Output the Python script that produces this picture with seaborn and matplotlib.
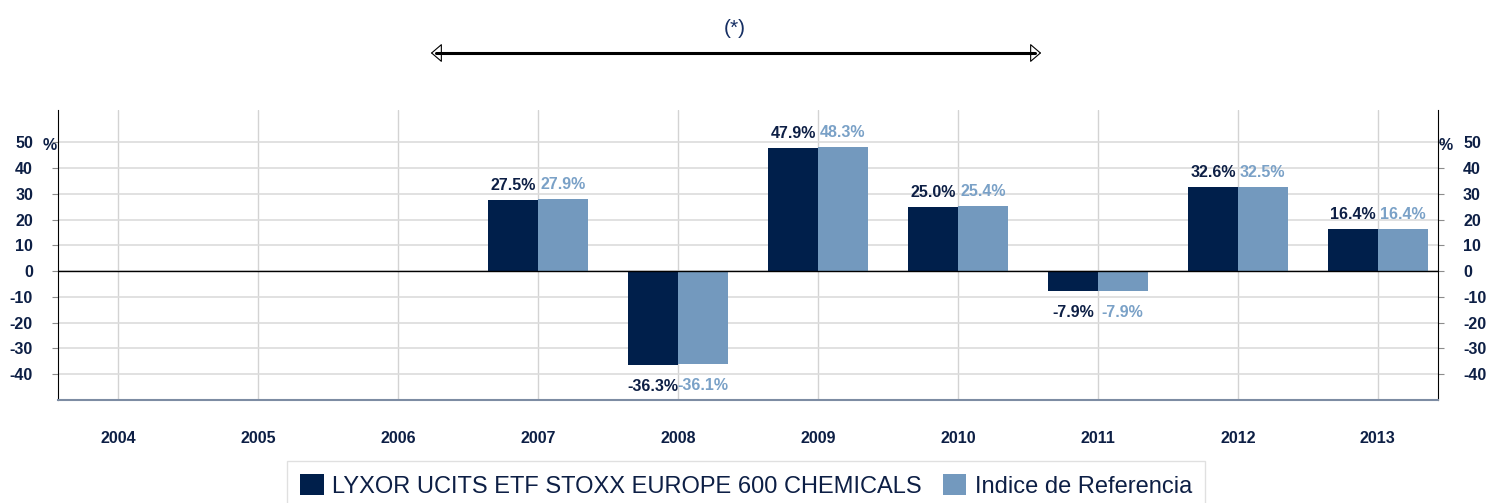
import numpy as np
import pandas as pd
import matplotlib
matplotlib.use("Agg")
import matplotlib.pyplot as plt
from matplotlib.patches import FancyArrowPatch, Patch
from matplotlib.lines import Line2D
import seaborn as sns

# Annual returns (%), fund vs benchmark
years = ["2004", "2005", "2006", "2007", "2008", "2009", "2010", "2011", "2012", "2013"]
data_years = ["2007", "2008", "2009", "2010", "2011", "2012", "2013"]
fund = [27.5, -36.3, 47.9, 25.0, -7.9, 32.6, 16.4]
index = [27.9, -36.1, 48.3, 25.4, -7.9, 32.5, 16.4]
series = ["LYXOR UCITS ETF STOXX EUROPE 600 CHEMICALS", "Indice de Referencia"]
yticks = [-40, -30, -20, -10, 0, 10, 20, 30, 40, 50]

dark = "#001f4b"
light = "#7399be"
text_dark = "#0d1f45"
text_light = "#7aa1c7"

df = pd.DataFrame({
    "year": data_years * 2,
    "value": fund + index,
    "serie": [series[0]] * len(fund) + [series[1]] * len(index),
})

sns.set_style("white")
plt.rcParams["font.family"] = ["Liberation Sans", "DejaVu Sans"]
plt.rcParams["axes.unicode_minus"] = False

W, H = 1489, 503
fig = plt.figure(figsize=(W / 100, H / 100), dpi=100)
ax = fig.add_axes([58 / W, 1 - 400 / H, 1380 / W, 290 / H])

sns.barplot(data=df, x="year", y="value", hue="serie", order=years, hue_order=series,
            palette=[dark, light], width=0.71, gap=0, saturation=1, linewidth=0,
            ax=ax, legend=False)

ax.set_xlim(-0.43, 9.43)
ax.set_ylim(-50, 62.5)
ax.set_yticks(yticks)
ax.set_xlabel("")
ax.set_ylabel("")

# grid
for i in range(len(years)):
    ax.axvline(i, color="#d3d3d3", lw=1, zorder=0)
for t in yticks:
    ax.axhline(t, color="#dcdcdc", lw=1.2, zorder=0)
ax.axhline(0, color="black", lw=1, zorder=3)

ax.spines["top"].set_visible(False)
ax.spines["left"].set_color("black")
ax.spines["right"].set_color("black")
ax.spines["right"].set_visible(True)
ax.spines["bottom"].set_color("#7d8ca3")
ax.spines["bottom"].set_linewidth(1.5)

ax.tick_params(axis="y", left=True, right=True, labelleft=True, labelright=True,
               length=4, color="#8c8c8c", labelsize=11.5, labelcolor=text_dark, pad=14)
ax.tick_params(axis="x", length=0, labelsize=11.5, labelcolor=text_dark, pad=22)
for lab in ax.get_yticklabels() + ax.get_xticklabels():
    lab.set_fontweight("bold")

fig.text(50 / W, 1 - 145 / H, "%", ha="center", va="center",
         fontsize=11.5, fontweight="bold", color=text_dark)
fig.text(1446 / W, 1 - 145 / H, "%", ha="center", va="center",
         fontsize=11.5, fontweight="bold", color=text_dark)

# value labels
for cont, col in zip(ax.containers, [text_dark, text_light]):
    for bar in cont:
        h = bar.get_height()
        if np.isnan(h):
            continue
        x = bar.get_x() + bar.get_width() / 2
        if h >= 0:
            ax.annotate(f"{h:.1f}%", (x, h), xytext=(0, 5), textcoords="offset points",
                        ha="center", va="bottom", fontsize=11.5, fontweight="bold", color=col)
        else:
            ax.annotate(f"{h:.1f}%", (x, h), xytext=(0, -10), textcoords="offset points",
                        ha="center", va="top", fontsize=11.5, fontweight="bold", color=col)

# header: (*) with a double arrow over 2006-2010
fig.text(735 / W, 1 - 28 / H, "(*)", ha="center", va="center", fontsize=15,
         color="#162f63")
y_arr = 1 - 53 / H
fig.add_artist(Line2D([436 / W, 1035 / W], [y_arr, y_arr], transform=fig.transFigure,
                      color="black", lw=2.2))
arrow = FancyArrowPatch((428 / W, y_arr), (1044 / W, y_arr),
                        transform=fig.transFigure,
                        arrowstyle="<|-|>,head_length=7,head_width=6",
                        facecolor="white", edgecolor="black", lw=0.8)
fig.add_artist(arrow)

# legend
handles = [Patch(facecolor=dark, edgecolor="none"), Patch(facecolor=light, edgecolor="none")]
leg = fig.legend(handles, series, loc="center", bbox_to_anchor=(746 / W, 1 - 486 / H),
                 ncol=2, frameon=True, handlelength=1.0, handleheight=1.0,
                 handletextpad=0.35, columnspacing=0.9, borderpad=0.55, fancybox=False,
                 prop={"family": ["Liberation Sans"], "size": 17})
leg.get_frame().set_edgecolor("#d9d9d9")
leg.get_frame().set_linewidth(1)
for t in leg.get_texts():
    t.set_color(text_dark)

fig.savefig("out.png", dpi=100)
